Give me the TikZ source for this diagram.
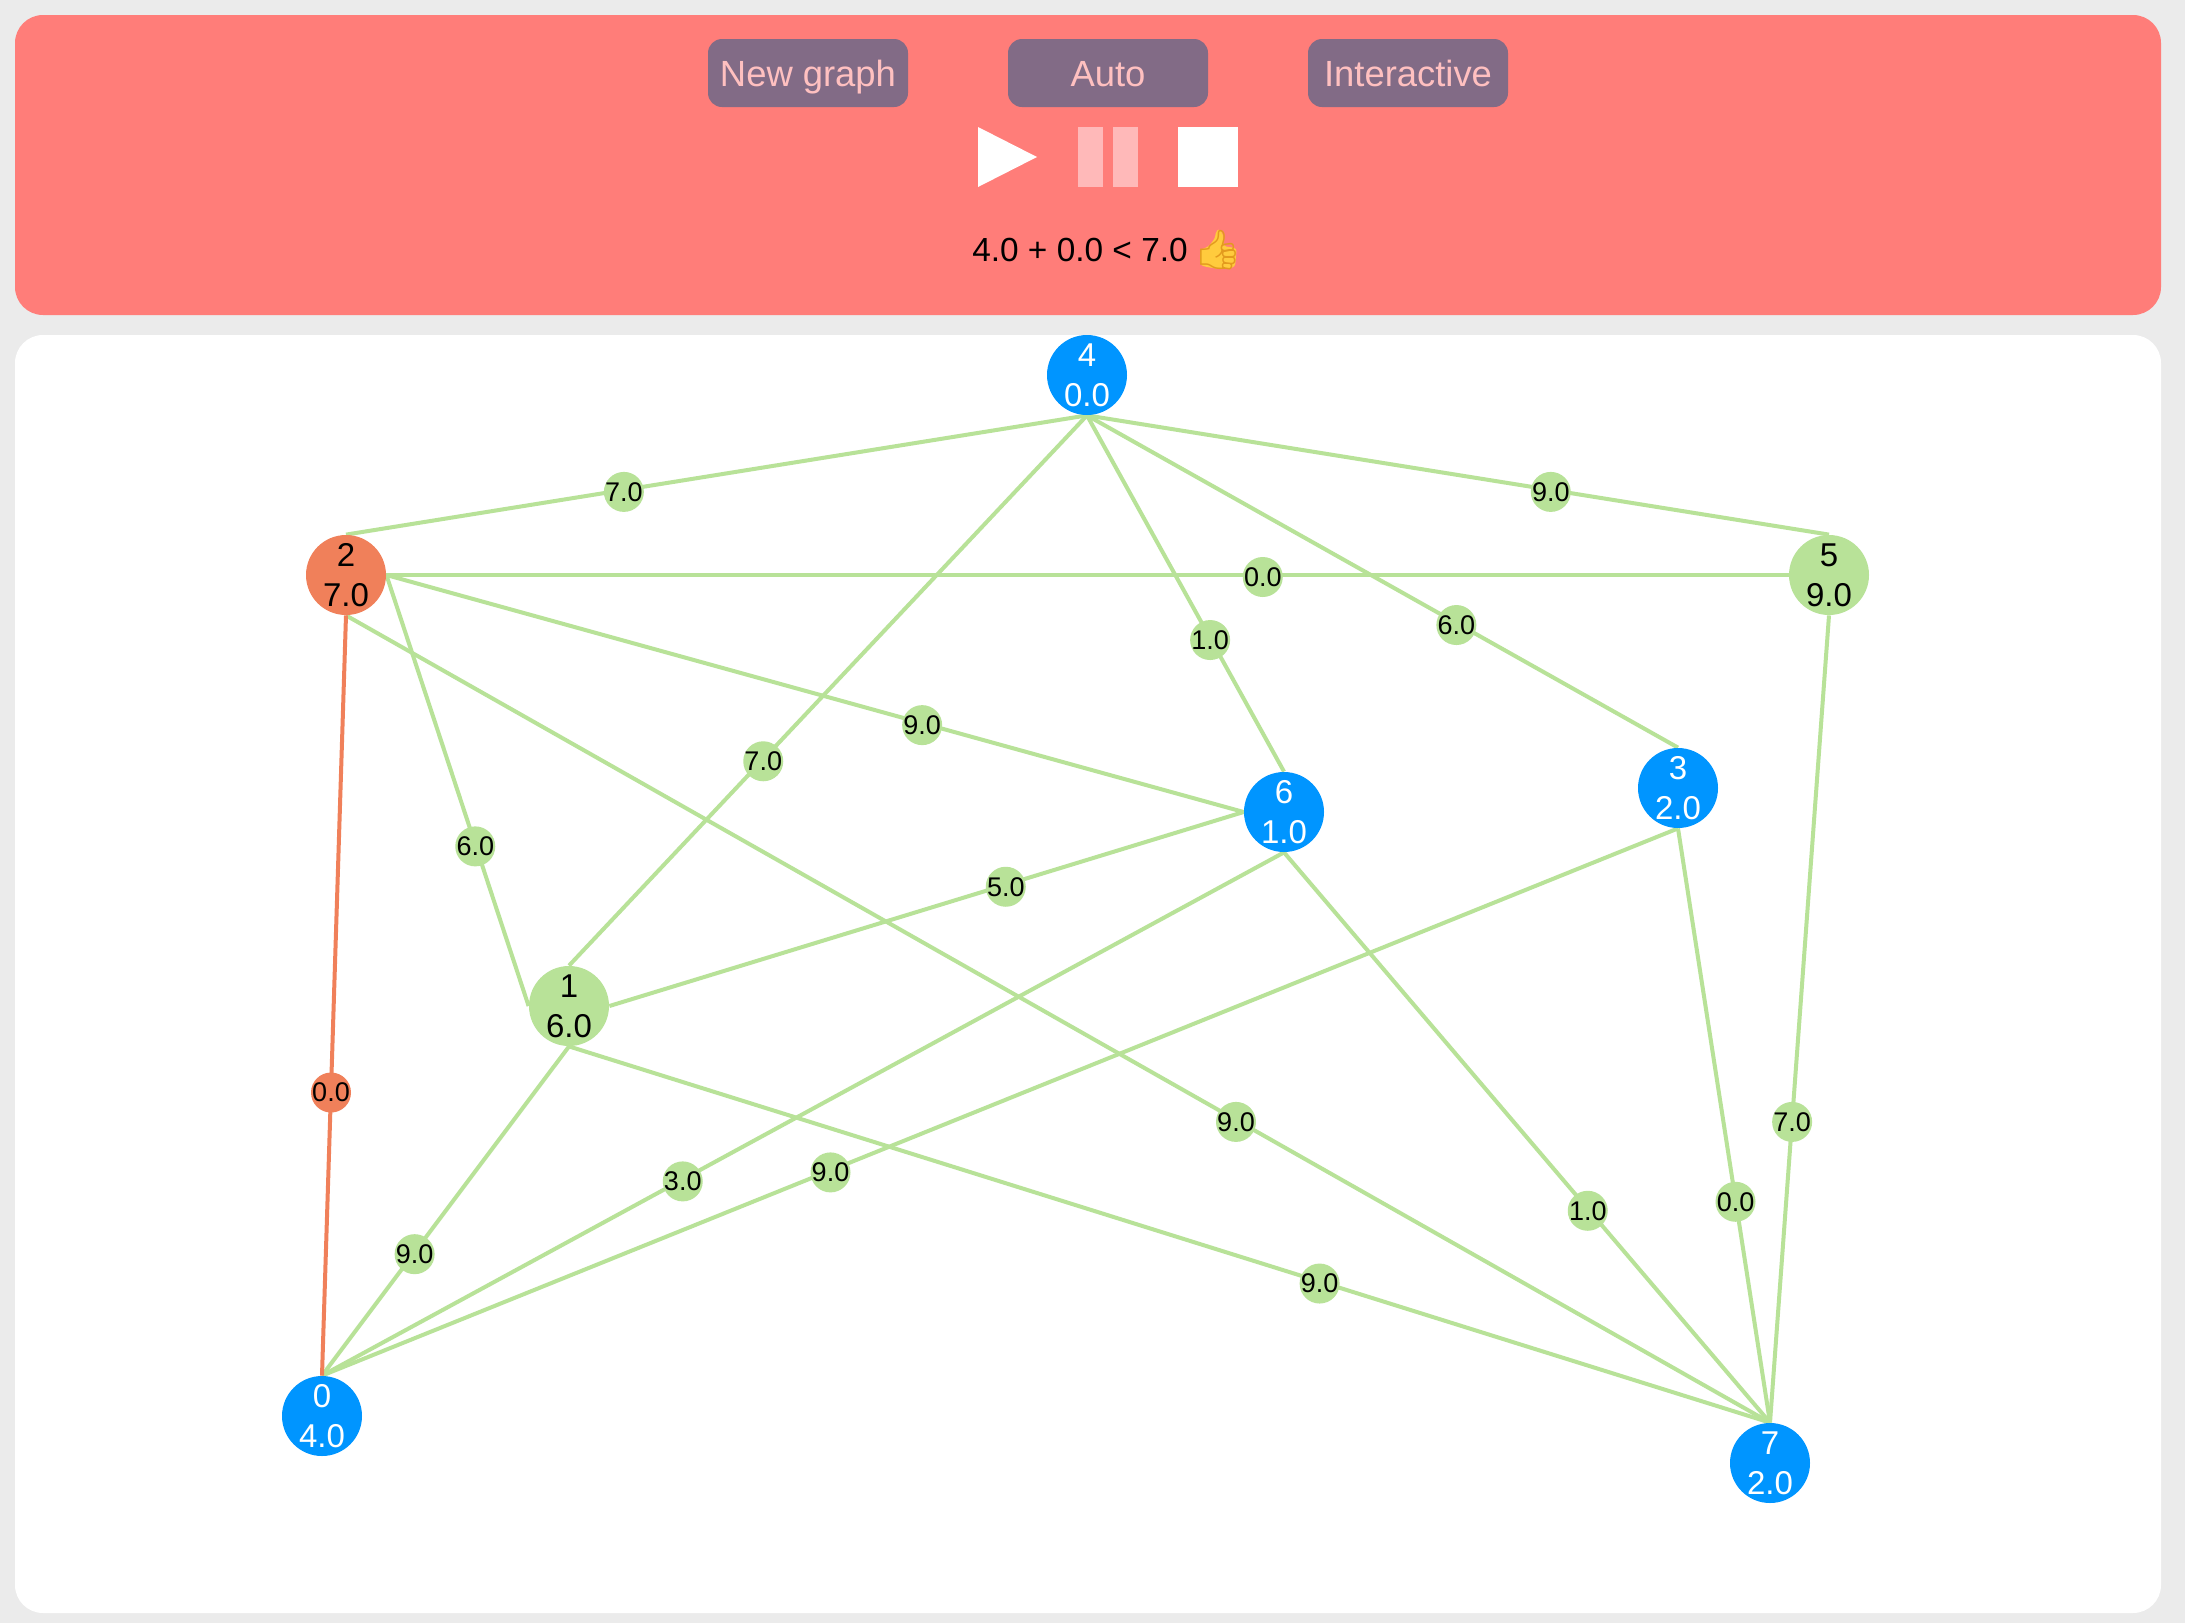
\documentclass[tikz,border=0pt]{standalone}
\usepackage{fontspec}
\setmainfont{Liberation Sans}
\newfontfamily\emojifont{Noto Emoji}
\pgfdeclarelayer{edges}
\pgfsetlayers{edges,main}
\definecolor{pagebg}{HTML}{EBEBEB}
\definecolor{toppanel}{HTML}{FF7D79}
\definecolor{btnbg}{HTML}{826B86}
\definecolor{btntext}{HTML}{FFC0C0}
\definecolor{pausecol}{HTML}{FFB9B9}
\definecolor{vgreen}{HTML}{B8E298}
\definecolor{vblue}{HTML}{0095FF}
\definecolor{vorange}{HTML}{F0805A}
\definecolor{thumbcol}{HTML}{FFCB3D}
\definecolor{thumbline}{HTML}{E39A1E}
\tikzset{
  x=0.5pt,y=-0.5pt,
  panel/.style={rounded corners=14pt,draw=none},
  btn/.style={rounded corners=7pt,fill=btnbg,draw=none},
  btnlabel/.style={text=btntext,anchor=base,inner sep=0pt,font=\fontsize{18.2}{20}\selectfont},
  vert/.style={circle,inner sep=0pt,minimum size=40pt,align=center,font=\fontsize{16.5}{20}\selectfont},
  vgr/.style={vert,fill=vgreen,text=black},
  vbl/.style={vert,fill=vblue,text=white},
  vor/.style={vert,fill=vorange,text=black},
  edgeline/.style={draw=vgreen,line width=2pt},
  edgehot/.style={draw=vorange,line width=2pt},
  lab/.style={circle,pos=.625,yshift=-1pt,inner sep=0pt,minimum size=20pt,fill=vgreen,text=black,font=\fontsize{13.5}{15}\selectfont},
  labhot/.style={lab,fill=vorange},
}
\newcommand{\vt}[2]{\raisebox{-0.6pt}{\makebox[0pt][c]{#1}}\\[0pt]\raisebox{-0.6pt}{\makebox[0pt][c]{#2}}}
\newcommand{\lt}[1]{\makebox[0pt][c]{#1}}
\begin{document}
\begin{tikzpicture}
\useasboundingbox (0,0) rectangle (2185,1623);
\begin{pgfonlayer}{edges}
\fill[pagebg] (0,0) rectangle (2185,1623);
\fill[panel,toppanel] (15,15) rectangle (2161,315);
\fill[panel,white] (15,335) rectangle (2161,1613);
\end{pgfonlayer}
% buttons
\path[btn] (708,39) rectangle (908,107);
\node[btnlabel] (bnew) at (808,86) {New graph};
\path[btn] (1008,39) rectangle (1208,107);
\node[btnlabel] (bauto) at (1108,86) {Auto};
\path[btn] (1308,39) rectangle (1508,107);
\node[btnlabel] (binter) at (1408,86) {Interactive};
% transport icons
\fill[white] (978,127) -- (1037,157) -- (978,187) -- cycle;
\fill[pausecol] (1078,127) rectangle (1103,187);
\fill[pausecol] (1113,127) rectangle (1138,187);
\fill[white] (1178,127) rectangle (1238,187);
% status
\node[anchor=base,inner sep=0pt,font=\fontsize{16.7}{20}\selectfont] (status) at (1080,261) {4.0 + 0.0 < 7.0};
\fill[thumbcol,rounded corners=1.5pt] (1200,250) -- (1200,265) -- (1206.7,267) -- (1221.7,269.3) -- (1235,267) -- (1236.7,248.3) -- (1223.3,246) -- (1223.3,235) -- (1220,229.3) -- (1216,230.7) -- (1215,238.3) -- (1208.3,246.7) -- cycle;
\node[anchor=center,inner sep=0pt,text=thumbline,font=\emojifont\fontsize{19.5}{24}\selectfont] (thumb) at (1218,250) {👍};
% vertices
\node[vbl] (n0) at (322,1416) {\vt{0}{4.0}};
\node[vgr] (n1) at (569,1006) {\vt{1}{6.0}};
\node[vor] (n2) at (346,575) {\vt{2}{7.0}};
\node[vbl] (n3) at (1678,788) {\vt{3}{2.0}};
\node[vbl] (n4) at (1087,375) {\vt{4}{0.0}};
\node[vgr] (n5) at (1829,575) {\vt{5}{9.0}};
\node[vbl] (n6) at (1284,812) {\vt{6}{1.0}};
\node[vbl] (n7) at (1770,1463) {\vt{7}{2.0}};
% edges
\begin{pgfonlayer}{edges}
\draw[edgeline] (n4.south) -- node[lab] (e24) {\lt{7.0}} (n2.north);
\draw[edgeline] (n4.south) -- node[lab] (e45) {\lt{9.0}} (n5.north);
\draw[edgeline] (n2.east) -- node[lab] (e25) {\lt{0.0}} (n5.west);
\draw[edgeline] (n4.south) -- node[lab] (e41) {\lt{7.0}} (n1.north);
\draw[edgeline] (n4.south) -- node[lab] (e46) {\lt{1.0}} (n6.north);
\draw[edgeline] (n4.south) -- node[lab] (e43) {\lt{6.0}} (n3.north);
\draw[edgeline] (n2.east) -- node[lab] (e26) {\lt{9.0}} (n6.west);
\draw[edgeline] (n2.east) -- node[lab] (e21) {\lt{6.0}} (n1.west);
\draw[edgeline] (n2.south) -- node[lab] (e27) {\lt{9.0}} (n7.north);
\draw[edgeline] (n1.east) -- node[lab] (e16) {\lt{5.0}} (n6.west);
\draw[edgeline] (n1.south) -- node[lab] (e17) {\lt{9.0}} (n7.north);
\draw[edgeline] (n1.south) -- node[lab] (e10) {\lt{9.0}} (n0.north);
\draw[edgeline] (n6.south) -- node[lab] (e60) {\lt{3.0}} (n0.north);
\draw[edgeline] (n3.south) -- node[lab] (e30) {\lt{9.0}} (n0.north);
\draw[edgeline] (n6.south) -- node[lab] (e67) {\lt{1.0}} (n7.north);
\draw[edgeline] (n3.south) -- node[lab] (e37) {\lt{0.0}} (n7.north);
\draw[edgeline] (n5.south) -- node[lab] (e57) {\lt{7.0}} (n7.north);
\draw[edgehot] (n2.south) -- node[labhot] (e20) {\lt{0.0}} (n0.north);
\end{pgfonlayer}
\end{tikzpicture}
\end{document}
